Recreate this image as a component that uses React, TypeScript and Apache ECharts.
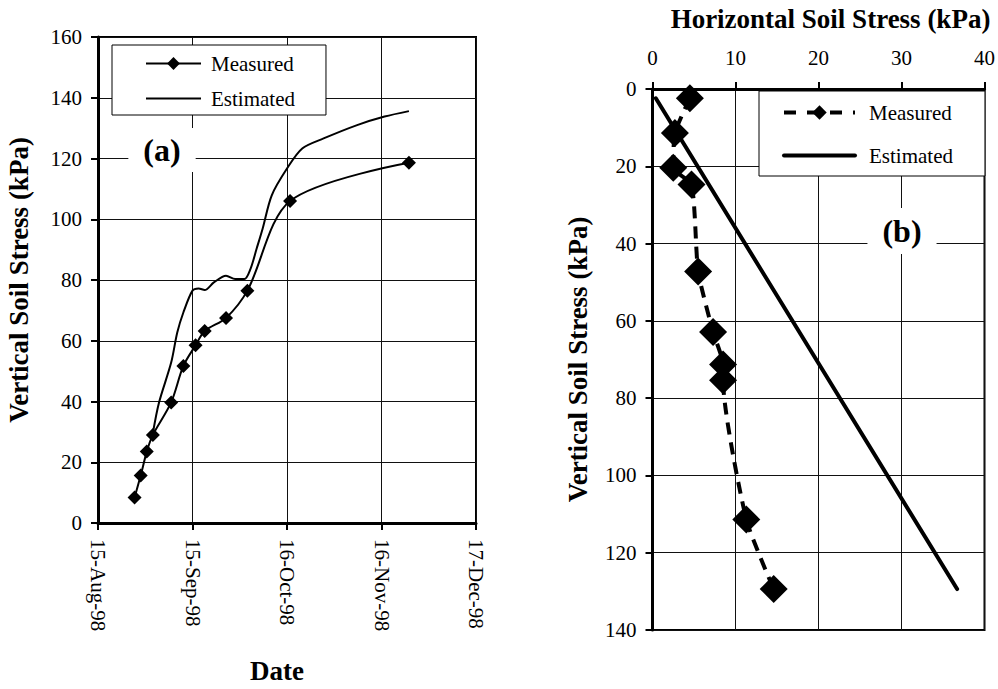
import React, { useEffect, useRef } from "react";
import * as echarts from "echarts";

// ---- Panel (a): vertical soil stress vs date ----
const measuredDates = [
  "1998-08-27", "1998-08-29", "1998-08-31", "1998-09-02", "1998-09-08", "1998-09-12",
  "1998-09-16", "1998-09-19", "1998-09-26", "1998-10-03", "1998-10-17", "1998-11-25",
];
const measuredStress = [8.4, 15.6, 23.5, 29, 39.7, 51.7, 58.5, 63.2, 67.5, 76.5, 106, 118.6];

const estimatedDates = [
  "1998-09-02", "1998-09-04", "1998-09-08", "1998-09-10", "1998-09-12", "1998-09-15",
  "1998-09-17", "1998-09-19", "1998-09-22", "1998-09-26", "1998-09-29", "1998-10-02",
  "1998-10-04", "1998-10-06", "1998-10-08", "1998-10-11", "1998-10-16", "1998-10-21",
  "1998-10-28", "1998-11-08", "1998-11-17", "1998-11-25",
];
const estimatedStress = [
  29.6, 39.6, 52.8, 62.7, 69.3, 76.5, 77.2, 76.7, 79.2, 81.4, 80.3, 80.3,
  83.6, 90.2, 96.9, 107.9, 116.7, 123.3, 126.6, 131, 133.8, 135.6,
];

const dateTickStart = "1998-08-15";
const dateTickEnd = "1998-12-17";
const dateTickDays = 31;
const monthNames = ["Jan", "Feb", "Mar", "Apr", "May", "Jun", "Jul", "Aug", "Sep", "Oct", "Nov", "Dec"];

// ---- Panel (b): vertical vs horizontal soil stress ----
const measuredHorizontal = [4.5, 2.7, 2.5, 4.7, 5.5, 7.3, 8.5, 8.5, 11.3, 14.6];
const measuredVertical = [2.4, 11.4, 20.4, 24.7, 47.2, 62.9, 71.3, 75.4, 111.4, 129.4];
const estimatedHorizontal = [0.4, 36.7];
const estimatedVertical = [2.4, 129.4];

const FONT = "Liberation Serif";
const DAY = 86400000;

function toUTC(s: string) {
  const [y, m, d] = s.split("-").map(Number);
  return Date.UTC(y, m - 1, d);
}
const BASE = toUTC(dateTickStart);
const dayOf = (s: string) => (toUTC(s) - BASE) / DAY;
const fmtDay = (v: number) => {
  const d = new Date(BASE + Math.round(v) * DAY);
  return `${d.getUTCDate()}-${monthNames[d.getUTCMonth()]}-${String(d.getUTCFullYear()).slice(2)}`;
};

export default function App() {
  const ref = useRef<HTMLDivElement>(null);

  useEffect(() => {
    if (!ref.current) return;
    const chart = echarts.init(ref.current, undefined, { renderer: "svg" });

    const axisLabel = { fontFamily: FONT, fontSize: 21, color: "#000" };
    const nameStyle = { fontFamily: FONT, fontSize: 27, fontWeight: "bold" as const, color: "#000" };
    const axisLine = { show: true, lineStyle: { color: "#000", width: 3 } };
    const axisTick = { show: true, inside: false, length: 7, lineStyle: { color: "#000", width: 2 } };
    const splitLine = { show: true, lineStyle: { color: "#111", width: 1 } };
    const legendText = { fontFamily: FONT, fontSize: 21, color: "#000", lineHeight: 21 };

    const option: any = {
      animation: false,
      backgroundColor: "#fff",
      textStyle: { fontFamily: FONT },
      grid: [
        { left: 98, top: 37, width: 378, height: 486, show: true, borderColor: "#000", borderWidth: 2, backgroundColor: "transparent" },
        { left: 652.5, top: 87, width: 332, height: 543, show: true, borderColor: "#000", borderWidth: 2, backgroundColor: "transparent" },
      ],
      xAxis: [
        {
          type: "value",
          gridIndex: 0,
          position: "bottom",
          min: 0,
          max: dayOf(dateTickEnd),
          interval: dateTickDays,
          axisLine,
          axisTick,
          splitLine,
          axisLabel: { ...axisLabel, rotate: -90, margin: 16, formatter: (v: number) => fmtDay(v) },
          name: "Date",
          nameLocation: "middle",
          nameGap: 134,
          nameTextStyle: { ...nameStyle, padding: [0, 20, 0, 0] },
        },
        {
          type: "value",
          gridIndex: 1,
          position: "top",
          min: 0,
          max: 40,
          interval: 10,
          axisLine,
          axisTick,
          splitLine,
          axisLabel: { ...axisLabel, margin: 21 },
          name: "Horizontal Soil Stress (kPa)",
          nameLocation: "middle",
          nameGap: 57,
          nameTextStyle: { ...nameStyle, padding: [0, 0, 0, 24] },
        },
      ],
      yAxis: [
        {
          type: "value",
          gridIndex: 0,
          min: 0,
          max: 160,
          interval: 20,
          axisLine,
          axisTick,
          splitLine,
          axisLabel: { ...axisLabel, margin: 16 },
          name: "Vertical Soil Stress (kPa)",
          nameLocation: "middle",
          nameGap: 66,
          nameTextStyle: nameStyle,
        },
        {
          type: "value",
          gridIndex: 1,
          inverse: true,
          min: 0,
          max: 140,
          interval: 20,
          axisLine,
          axisTick,
          splitLine,
          axisLabel: { ...axisLabel, margin: 16 },
          name: "Vertical Soil Stress (kPa)",
          nameLocation: "middle",
          nameGap: 61,
          nameTextStyle: nameStyle,
        },
      ],
      legend: [
        {
          data: [
            { name: "Measured" },
            { name: "Estimated", itemStyle: { opacity: 0 } },
          ],
          orient: "vertical",
          left: 112,
          top: 45,
          padding: [8, 31, 6, 33],
          itemWidth: 55,
          itemHeight: 16,
          itemGap: 14,
          borderColor: "#000",
          borderWidth: 1,
          backgroundColor: "#fff",
          selectedMode: false,
          textStyle: { ...legendText, padding: [0, 0, 0, 5] },
        },
        {
          data: [
            { name: "Measured (b)", lineStyle: { width: 4, type: [12, 11] } },
            { name: "Estimated (b)", itemStyle: { opacity: 0 }, lineStyle: { width: 4 } },
          ],
          formatter: (n: string) => n.replace(" (b)", ""),
          orient: "vertical",
          left: 759,
          top: 91,
          padding: [11, 32, 10, 23],
          itemWidth: 71,
          itemHeight: 18,
          itemGap: 22,
          borderColor: "#000",
          borderWidth: 1,
          backgroundColor: "#fff",
          selectedMode: false,
          textStyle: { ...legendText, padding: [0, 0, 0, 9] },
        },
      ],
      graphic: [
        {
          type: "text",
          x: 162,
          y: 150,
          z: 50,
          style: {
            text: "(a)",
            align: "center",
            verticalAlign: "middle",
            font: `bold 32px "${FONT}"`,
            fill: "#000",
            backgroundColor: "#fff",
            padding: [6, 15, 6, 15],
          },
        },
        {
          type: "text",
          x: 902,
          y: 231,
          z: 50,
          style: {
            text: "(b)",
            align: "center",
            verticalAlign: "middle",
            font: `bold 32px "${FONT}"`,
            fill: "#000",
            backgroundColor: "#fff",
            padding: [7, 15, 7, 15],
          },
        },
      ],
      series: [
        {
          name: "Measured",
          type: "line",
          xAxisIndex: 0,
          yAxisIndex: 0,
          data: measuredDates.map((d, i) => [dayOf(d), measuredStress[i]]),
          symbol: "diamond",
          symbolSize: 14,
          smooth: 0.3,
          lineStyle: { color: "#000", width: 2 },
          itemStyle: { color: "#000" },
          z: 3,
        },
        {
          name: "Estimated",
          type: "line",
          xAxisIndex: 0,
          yAxisIndex: 0,
          data: estimatedDates.map((d, i) => [dayOf(d), estimatedStress[i]]),
          symbol: "none",
          smooth: 0.3,
          lineStyle: { color: "#000", width: 2 },
          itemStyle: { color: "#000" },
          z: 2,
        },
        {
          name: "Measured (b)",
          type: "line",
          xAxisIndex: 1,
          yAxisIndex: 1,
          data: measuredHorizontal.map((h, i) => [h, measuredVertical[i]]),
          symbol: "diamond",
          symbolSize: 28,
          smooth: 0.2,
          lineStyle: { color: "#000", width: 4, type: [12, 8] },
          itemStyle: { color: "#000" },
          z: 3,
        },
        {
          name: "Estimated (b)",
          type: "line",
          xAxisIndex: 1,
          yAxisIndex: 1,
          data: estimatedHorizontal.map((h, i) => [h, estimatedVertical[i]]),
          symbol: "none",
          lineStyle: { color: "#000", width: 4, cap: "round" },
          itemStyle: { color: "#000" },
          z: 2,
        },
      ],
    };

    chart.setOption(option);
    return () => chart.dispose();
  }, []);

  return (
    <div
      ref={ref}
      style={{ position: "fixed", left: 0, top: 0, width: 998, height: 689, background: "#fff" }}
    />
  );
}
